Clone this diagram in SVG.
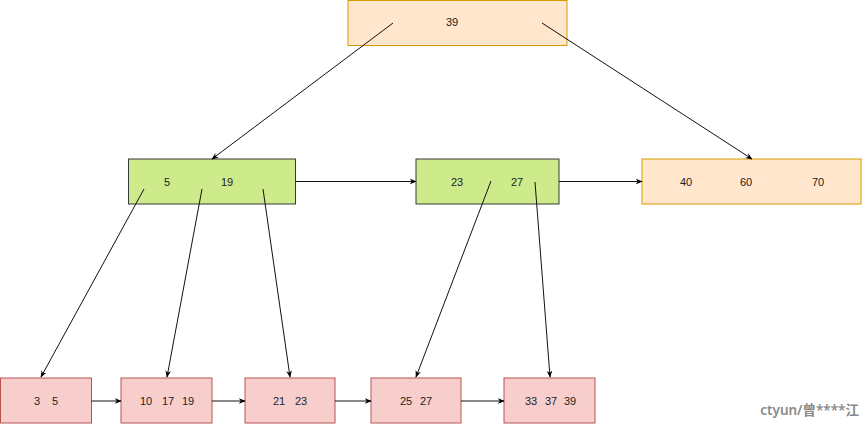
<svg xmlns="http://www.w3.org/2000/svg" width="862" height="424" viewBox="0 0 862 424">
<defs>
<marker id="arr" viewBox="0 0 10 10" refX="9" refY="5" markerWidth="7" markerHeight="7" markerUnits="userSpaceOnUse" orient="auto">
<path d="M0,1 L10,5 L0,9 L3,5 Z" fill="#000"/>
</marker>
<style>
.o{fill:#ffe6cc;stroke:#d79b00;stroke-width:1}
.g{fill:#cdeb8b;stroke:#36393d;stroke-width:1}
.r{fill:#f8cecc;stroke:#b85450;stroke-width:1}
text{font-family:"Liberation Sans",Arial,sans-serif;font-size:11px;fill:#222;text-anchor:middle}
.e{stroke:#111;stroke-width:1;fill:none;marker-end:url(#arr)}
.wm{font-family:"Noto Sans","Noto Sans CJK SC",sans-serif;font-size:13.5px;fill:#8a8a8a;text-anchor:end;font-weight:600}
</style>
</defs>
<rect width="862" height="424" fill="#fff"/>
<g id="root"><rect class="o" x="348" y="0.5" width="219" height="45"/><text x="452" y="26">39</text></g>
<g id="n5_19"><rect class="g" x="128.5" y="159" width="167" height="45"/><text x="167" y="186">5</text><text x="227" y="186">19</text></g>
<g id="n23_27"><rect class="g" x="416" y="159" width="143" height="45"/><text x="457" y="186">23</text><text x="517" y="186">27</text></g>
<g id="n40_60_70"><rect class="o" x="642" y="159" width="219" height="45"/><text x="686" y="186">40</text><text x="746" y="186">60</text><text x="818" y="186">70</text></g>
<g id="l3_5"><rect class="r" x="0.5" y="378" width="91" height="45"/><text x="37" y="405">3</text><text x="55" y="405">5</text></g>
<g id="l10_17_19"><rect class="r" x="121" y="378" width="91" height="45"/><text x="146" y="405">10</text><text x="168" y="405">17</text><text x="188" y="405">19</text></g>
<g id="l21_23"><rect class="r" x="245" y="378" width="90" height="45"/><text x="279" y="405">21</text><text x="301" y="405">23</text></g>
<g id="l25_27"><rect class="r" x="371" y="378" width="90" height="45"/><text x="406" y="405">25</text><text x="426" y="405">27</text></g>
<g id="l33_37_39"><rect class="r" x="504" y="378" width="91" height="45"/><text x="531" y="405">33</text><text x="551" y="405">37</text><text x="570" y="405">39</text></g>
<g id="connectors">
<line class="e" x1="393" y1="23" x2="212" y2="159"/>
<line class="e" x1="542" y1="23" x2="752" y2="159"/>
<line class="e" x1="295.5" y1="181.5" x2="416" y2="181.5"/>
<line class="e" x1="559" y1="181.5" x2="642" y2="181.5"/>
<line class="e" x1="144" y1="189" x2="41" y2="377"/>
<line class="e" x1="202" y1="189" x2="167" y2="377"/>
<line class="e" x1="263" y1="189" x2="290" y2="377"/>
<line class="e" x1="491" y1="181" x2="416" y2="377"/>
<line class="e" x1="535" y1="182" x2="550" y2="377"/>
<line class="e" x1="91.5" y1="401" x2="121" y2="401"/>
<line class="e" x1="212" y1="401" x2="245" y2="401"/>
<line class="e" x1="335" y1="401" x2="371" y2="401"/>
<line class="e" x1="461" y1="401" x2="504" y2="401"/>
</g>
<text class="wm" x="859" y="415">ctyun/曾****江</text>
</svg>
